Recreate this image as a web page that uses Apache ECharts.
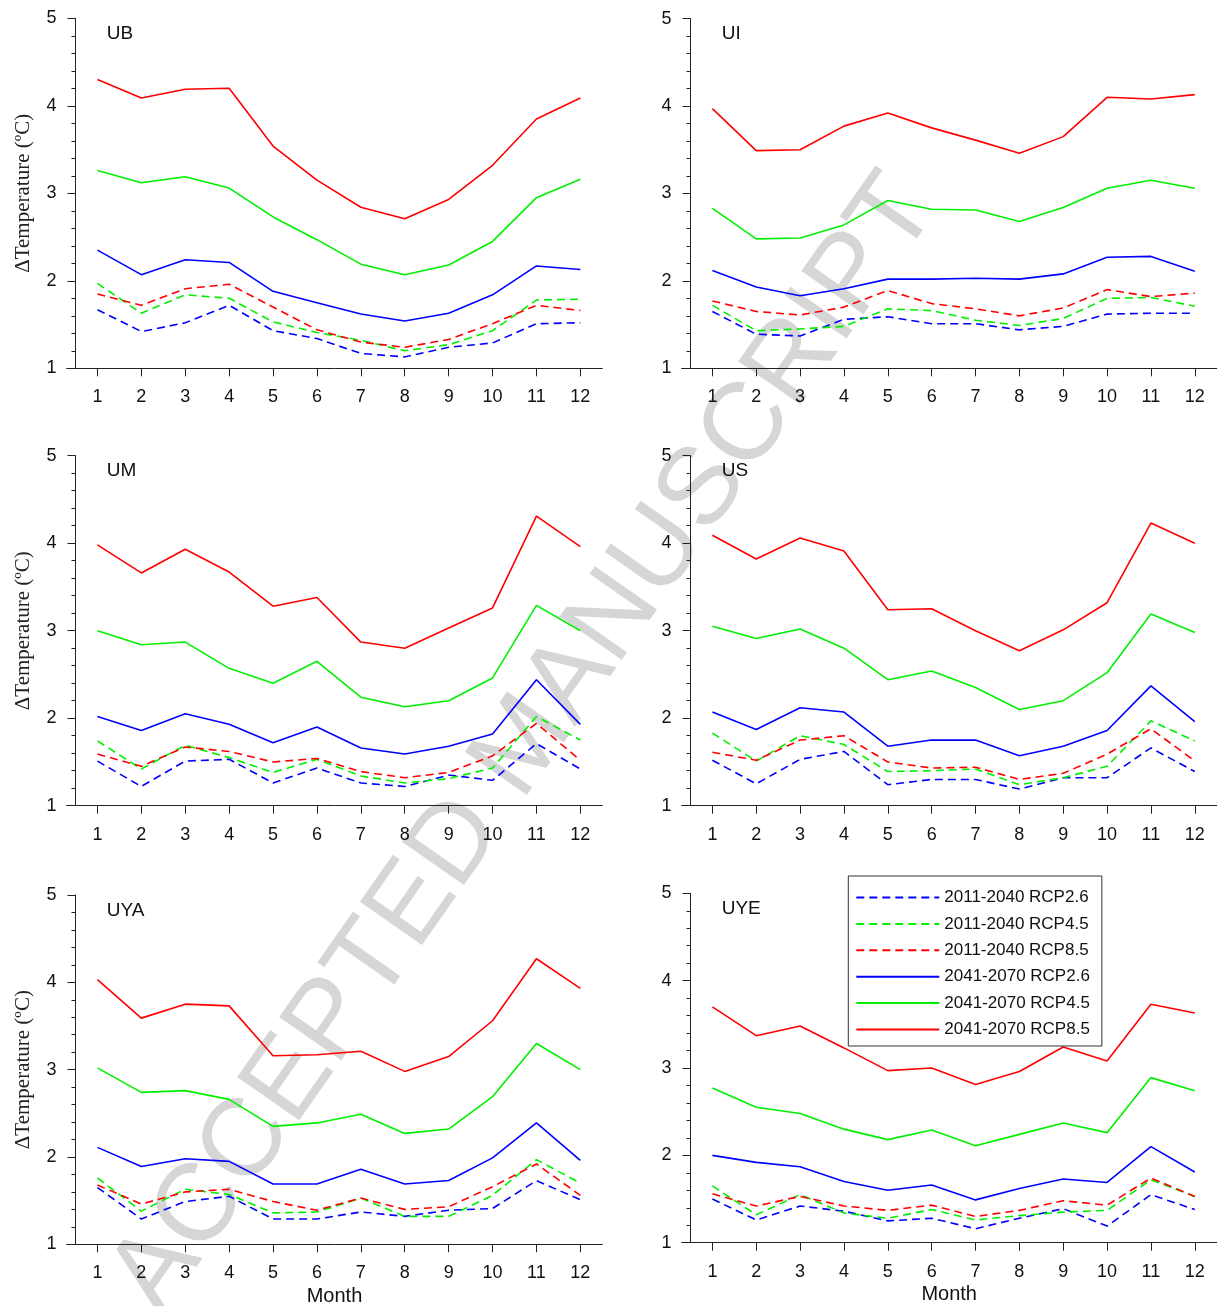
<!DOCTYPE html>
<html><head><meta charset="utf-8">
<script src="https://cdn.jsdelivr.net/npm/echarts@6/dist/echarts.min.js"></script>
<style>html,body{margin:0;padding:0;background:#fff}#c{width:1226px;height:1306px}</style>
</head><body><div id="c"></div>
<script>
const months = [1,2,3,4,5,6,7,8,9,10,11,12];
const panelNames = ['UB','UI','UM','US','UYA','UYE'];
const seriesNames = ['2011-2040 RCP2.6','2011-2040 RCP4.5','2011-2040 RCP8.5','2041-2070 RCP2.6','2041-2070 RCP4.5','2041-2070 RCP8.5'];
const yTicks = [1,2,3,4,5];

// UB
const UB_e26 = [1.67,1.42,1.52,1.72,1.43,1.34,1.17,1.13,1.24,1.29,1.51,1.52];
const UB_e45 = [1.97,1.63,1.84,1.80,1.53,1.41,1.32,1.20,1.27,1.43,1.78,1.79];
const UB_e85 = [1.85,1.72,1.91,1.96,1.70,1.44,1.30,1.24,1.33,1.51,1.72,1.66];
const UB_l26 = [2.35,2.07,2.24,2.21,1.88,1.75,1.62,1.54,1.63,1.84,2.17,2.13];
const UB_l45 = [3.26,3.12,3.19,3.06,2.73,2.47,2.19,2.07,2.18,2.45,2.95,3.16];
const UB_l85 = [4.30,4.09,4.19,4.20,3.54,3.15,2.84,2.71,2.93,3.32,3.85,4.09];
// UI
const UI_e26 = [1.65,1.39,1.37,1.56,1.59,1.51,1.51,1.44,1.48,1.62,1.63,1.63];
const UI_e45 = [1.72,1.43,1.45,1.48,1.68,1.66,1.55,1.49,1.57,1.80,1.81,1.71];
const UI_e85 = [1.77,1.65,1.61,1.70,1.89,1.74,1.68,1.60,1.69,1.90,1.82,1.86];
const UI_l26 = [2.12,1.93,1.83,1.91,2.02,2.02,2.03,2.02,2.08,2.27,2.28,2.11];
const UI_l45 = [2.83,2.48,2.49,2.64,2.92,2.82,2.81,2.68,2.84,3.06,3.15,3.06];
const UI_l85 = [3.97,3.49,3.50,3.77,3.92,3.75,3.61,3.46,3.65,4.10,4.08,4.13];
// UM
const UM_e26 = [1.51,1.22,1.51,1.53,1.26,1.43,1.26,1.22,1.35,1.29,1.71,1.42];
const UM_e45 = [1.74,1.42,1.69,1.55,1.38,1.53,1.34,1.26,1.31,1.43,2.02,1.75];
const UM_e85 = [1.59,1.45,1.67,1.62,1.50,1.54,1.39,1.32,1.38,1.57,1.94,1.52];
const UM_l26 = [2.02,1.86,2.05,1.93,1.72,1.90,1.66,1.59,1.68,1.82,2.44,1.93];
const UM_l45 = [3.00,2.84,2.87,2.57,2.40,2.65,2.24,2.13,2.20,2.46,3.29,3.00];
const UM_l85 = [3.98,3.66,3.93,3.67,3.28,3.38,2.87,2.80,3.03,3.26,4.31,3.96];
// US
const US_e26 = [1.52,1.25,1.53,1.62,1.24,1.30,1.30,1.19,1.32,1.32,1.66,1.39];
const US_e45 = [1.83,1.51,1.80,1.70,1.39,1.40,1.42,1.24,1.32,1.45,1.97,1.74];
const US_e85 = [1.61,1.52,1.75,1.80,1.50,1.43,1.44,1.30,1.37,1.59,1.88,1.51];
const US_l26 = [2.07,1.87,2.12,2.07,1.68,1.75,1.75,1.57,1.68,1.86,2.37,1.96];
const US_l45 = [3.05,2.91,3.02,2.80,2.44,2.54,2.35,2.10,2.20,2.52,3.19,2.98];
const US_l85 = [4.09,3.82,4.06,3.91,3.24,3.25,3.00,2.77,3.01,3.32,4.23,4.00];
// UYA
const UYA_e26 = [1.65,1.29,1.49,1.55,1.29,1.29,1.37,1.32,1.39,1.41,1.73,1.51];
const UYA_e45 = [1.76,1.38,1.63,1.57,1.36,1.37,1.53,1.32,1.32,1.56,1.97,1.70];
const UYA_e85 = [1.68,1.46,1.60,1.63,1.49,1.39,1.53,1.40,1.43,1.66,1.92,1.56];
const UYA_l26 = [2.11,1.89,1.98,1.95,1.69,1.69,1.86,1.69,1.73,1.99,2.39,1.96];
const UYA_l45 = [3.02,2.74,2.76,2.66,2.35,2.39,2.49,2.27,2.32,2.69,3.30,3.00];
const UYA_l85 = [4.03,3.59,3.75,3.73,3.16,3.17,3.21,2.98,3.15,3.56,4.27,3.93];
// UYE
const UYE_e26 = [1.50,1.26,1.42,1.36,1.25,1.28,1.16,1.28,1.39,1.19,1.55,1.38];
const UYE_e45 = [1.65,1.32,1.55,1.34,1.28,1.38,1.26,1.31,1.35,1.37,1.72,1.53];
const UYE_e85 = [1.56,1.42,1.53,1.42,1.37,1.43,1.30,1.37,1.48,1.43,1.74,1.53];
const UYE_l26 = [2.00,1.92,1.87,1.70,1.60,1.66,1.49,1.62,1.73,1.69,2.10,1.81];
const UYE_l45 = [2.77,2.55,2.48,2.30,2.18,2.29,2.11,2.24,2.37,2.26,2.89,2.74];
const UYE_l85 = [3.70,3.37,3.48,3.23,2.97,3.00,2.81,2.96,3.24,3.08,3.73,3.63];

const panelData = [
  [UB_e26,UB_e45,UB_e85,UB_l26,UB_l45,UB_l85],
  [UI_e26,UI_e45,UI_e85,UI_l26,UI_l45,UI_l85],
  [UM_e26,UM_e45,UM_e85,UM_l26,UM_l45,UM_l85],
  [US_e26,US_e45,US_e85,US_l26,US_l45,US_l85],
  [UYA_e26,UYA_e45,UYA_e85,UYA_l26,UYA_l45,UYA_l85],
  [UYE_e26,UYE_e45,UYE_e85,UYE_l26,UYE_l45,UYE_l85]
];

// layout / style
const gridBoxes = [
  {left:66.7, top:18.3, width:535.6, height:350},
  {left:681.7, top:18.6, width:535, height:349.7},
  {left:66.7, top:455.7, width:535.6, height:350},
  {left:681.7, top:455.7, width:535, height:350},
  {left:66.7, top:895, width:535.6, height:349.3},
  {left:681.7, top:893.3, width:535, height:349.4}
];
const colors = ['#0000ff','#00f000','#ff0000','#0000ff','#00f000','#ff0000'];
const dashed = [true,true,true,false,false,false];
const axisColor = '#222';

const chart = echarts.init(document.getElementById('c'), null, {renderer:'canvas'});
const grids = [], xAxes = [], yAxes = [], titles = [], series = [];
gridBoxes.forEach((g, i) => {
  grids.push(Object.assign({containLabel:false, outerBoundsMode:'none'}, g));
  const bottomRow = i >= 4, leftCol = i % 2 === 0;
  xAxes.push({
    gridIndex:i, type:'value', min:0.3, max:12.5,
    axisLine:{show:true, onZero:false, lineStyle:{color:axisColor, width:1}},
    axisTick:{show:true, length:8, customValues:months, lineStyle:{color:axisColor}},
    axisLabel:{show:true, customValues:months, margin:20, fontSize:18, fontFamily:'Arial, Liberation Sans', color:'#111'},
    splitLine:{show:false},
    name: bottomRow ? 'Month' : '', nameLocation:'middle', nameGap:42,
    nameTextStyle:{fontSize:20, fontFamily:'Arial, Liberation Sans', color:'#111'}
  });
  yAxes.push({
    gridIndex:i, type:'value', min:1, max:5, interval:1, offset:-8.8,
    axisLine:{show:true, onZero:false, lineStyle:{color:axisColor, width:1}},
    axisTick:{show:true, length:8, lineStyle:{color:axisColor}},
    minorTick:{show:true, splitNumber:5, length:4, lineStyle:{color:axisColor}},
    axisLabel:{show:true, margin:19, fontSize:18, fontFamily:'Arial, Liberation Sans', color:'#111'},
    splitLine:{show:false}, minorSplitLine:{show:false},
    name: leftCol ? 'ΔTemperature (ºC)' : '', nameLocation:'middle', nameGap:42,
    nameTextStyle:{fontSize:21, fontFamily:'Liberation Serif, Times New Roman, serif', color:'#222'}
  });
  titles.push({
    text: panelNames[i], left: g.left + 40, top: g.top + 6, padding:0,
    textStyle:{fontSize:19, fontWeight:'normal', fontFamily:'Arial, Liberation Sans', color:'#111'}
  });
  panelData[i].forEach((arr, k) => {
    series.push({
      name: seriesNames[k], type:'line', xAxisIndex:i, yAxisIndex:i,
      data: months.map((m, j) => [m, arr[j]]),
      symbol:'none', showSymbol:false, smooth:false, silent:true, animation:false,
      lineStyle:{color:colors[k], width:1.6, type: dashed[k] ? [8,5] : 'solid'},
      itemStyle:{color:colors[k]},
      z: 3
    });
  });
});

chart.setOption({
  backgroundColor:'#fff',
  animation:false,
  title: titles,
  grid: grids,
  xAxis: xAxes,
  yAxis: yAxes,
  legend: {
    data: seriesNames, orient:'vertical', left:848.3, top:876,
    padding:[13,12,8,7], itemWidth:83, itemHeight:14, itemGap:9.4,
    borderColor:'#333', borderWidth:1, backgroundColor:'#fff',
    itemStyle:{opacity:0},
    textStyle:{fontSize:17, fontFamily:'Arial, Liberation Sans', color:'#111'},
    selectedMode:false, z:10
  },
  graphic: {elements:[{
    type:'text', x:525, y:745, rotation: 55*Math.PI/180, z:-1, silent:true,
    style:{text:'ACCEPTED MANUSCRIPT', fontSize:110, fontFamily:'Arial, Liberation Sans',
      fill:'#d6d6d6', align:'center', verticalAlign:'middle', textAlign:'center', textVerticalAlign:'middle'}
  }]},
  series: series
});
</script></body></html>
